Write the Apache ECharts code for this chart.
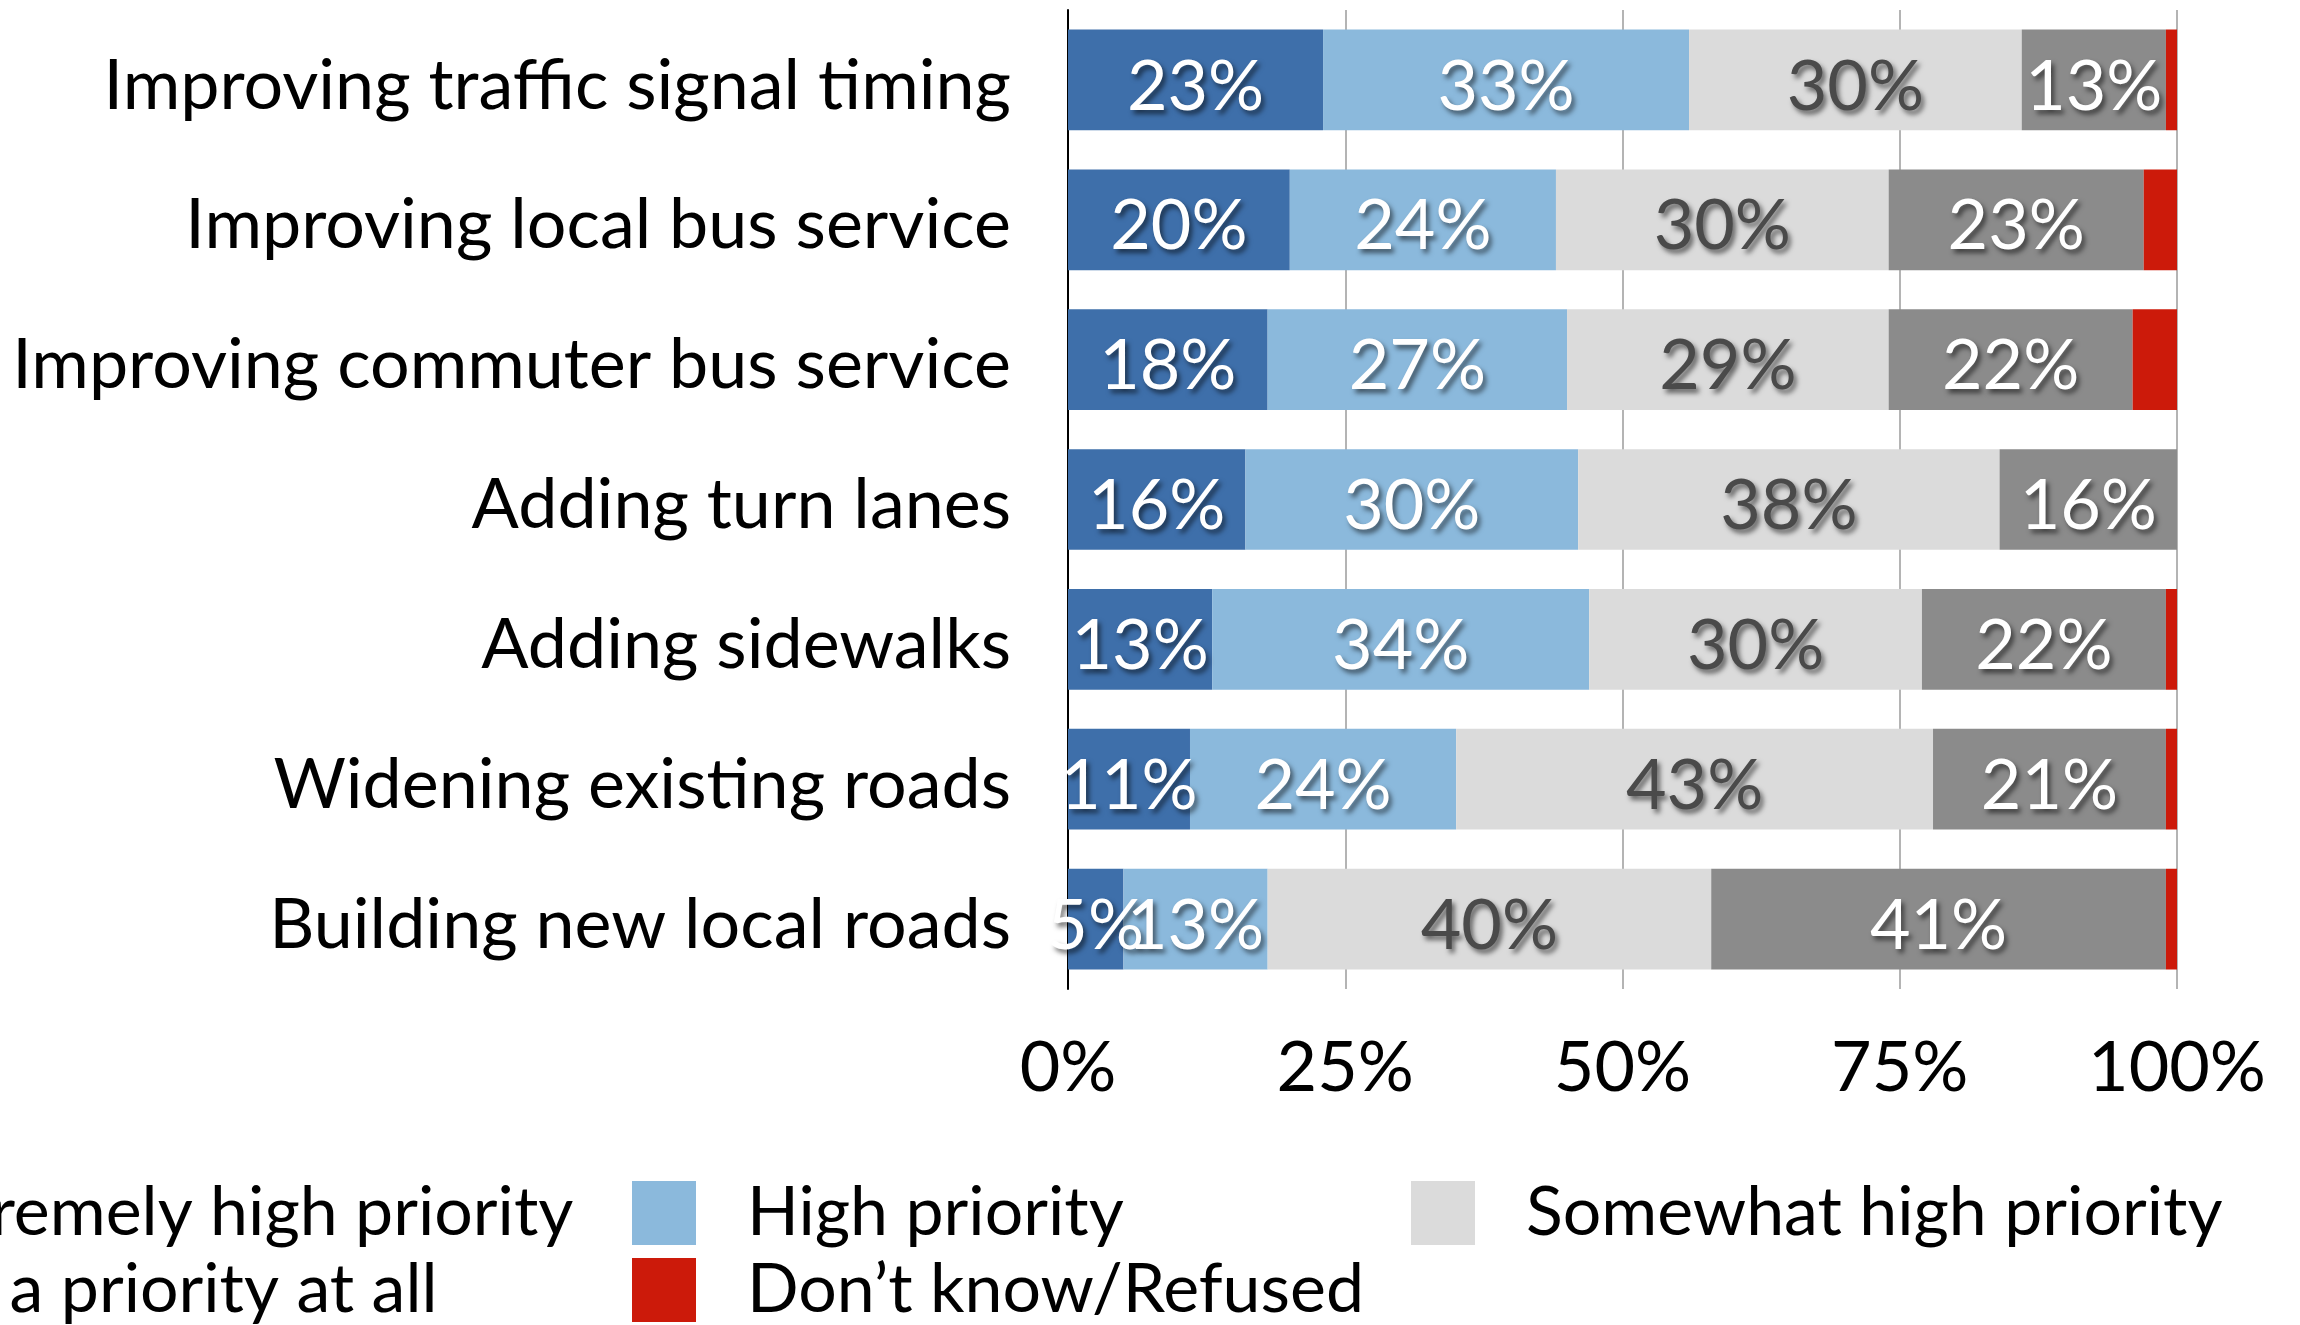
<!DOCTYPE html>
<html>
<head>
<meta charset="utf-8">
<script src="https://cdn.jsdelivr.net/npm/echarts@6/dist/echarts.min.js"></script>
<style>
html,body{margin:0;padding:0;background:#fff;}
#chart{width:2300px;height:1325px;}
</style>
</head>
<body>
<div id="chart"></div>
<script>
const categories = [
  "Improving traffic signal timing",
  "Improving local bus service",
  "Improving commuter bus service",
  "Adding turn lanes",
  "Adding sidewalks",
  "Widening existing roads",
  "Building new local roads"
];
const seriesNames = [
  "Extremely high priority",
  "High priority",
  "Somewhat high priority",
  "Not a priority at all",
  "Don\u2019t know/Refused"
];
const extremelyHigh = [23, 20, 18, 16, 13, 11, 5];
const high          = [33, 24, 27, 30, 34, 24, 13];
const somewhatHigh  = [30, 30, 29, 38, 30, 43, 40];
const notPriority   = [13, 23, 22, 16, 22, 21, 41];
const dontKnow      = [1, 3, 4, 0, 1, 1, 1];
const xTicks = [0, 25, 50, 75, 100];

const FONT = 'Lato';
const colors = ['#3E6FAA', '#8BB9DC', '#DBDBDB', '#8B8B8B', '#CC1A0A'];
const labelColors = ['#ffffff', '#ffffff', '#4A4A4A', '#ffffff', '#ffffff'];
const values = [extremelyHigh, high, somewhatHigh, notPriority, dontKnow];

const series = seriesNames.map((name, i) => ({
  name: name,
  type: 'bar',
  stack: 'total',
  barWidth: '72%',
  itemStyle: { color: colors[i] },
  data: values[i],
  label: {
    show: i < 4,
    position: 'inside',
    offset: [0, 7],
    formatter: p => p.value > 0 ? p.value + '%' : '',
    fontFamily: FONT,
    fontSize: 70,
    color: labelColors[i],
    textShadowColor: 'rgba(0,0,0,0.55)',
    textShadowBlur: 5,
    textShadowOffsetX: 3,
    textShadowOffsetY: 4
  },
  emphasis: { disabled: true }
}));

function mkLegend(name, left, top) {
  return {
    data: [name],
    left: left,
    top: top,
    padding: 0,
    icon: 'rect',
    itemWidth: 64,
    itemHeight: 64,
    selectedMode: false,
    textStyle: {
      fontFamily: FONT,
      fontSize: 68,
      lineHeight: 64,
      color: '#000',
      padding: [0, 0, 0, 46]
    }
  };
}

const chart = echarts.init(document.getElementById('chart'));
chart.setOption({
  animation: false,
  backgroundColor: '#fff',
  grid: { left: 1068, right: 123, top: 10, bottom: 336 },
  legend: [
    mkLegend(seriesNames[0], -222, 1179),
    mkLegend(seriesNames[1], 632, 1179),
    mkLegend(seriesNames[2], 1411, 1179),
    mkLegend(seriesNames[3], -236, 1256),
    mkLegend(seriesNames[4], 632, 1256)
  ],
  xAxis: {
    type: 'value',
    min: xTicks[0],
    max: xTicks[xTicks.length - 1],
    interval: 25,
    axisLine: { show: false },
    axisTick: { show: false },
    splitLine: { show: true, lineStyle: { color: '#B4B4B4', width: 2 } },
    axisLabel: {
      formatter: v => v + '%',
      fontFamily: FONT,
      fontSize: 70,
      color: '#000',
      margin: 44
    }
  },
  yAxis: {
    type: 'category',
    data: categories,
    inverse: true,
    axisLine: { show: true, lineStyle: { color: '#000', width: 2 } },
    axisTick: { show: false },
    axisLabel: {
      fontFamily: FONT,
      fontSize: 70,
      color: '#000',
      margin: 57,
      verticalAlign: 'top',
      lineHeight: 12
    }
  },
  series: series
});
</script>
</body>
</html>
